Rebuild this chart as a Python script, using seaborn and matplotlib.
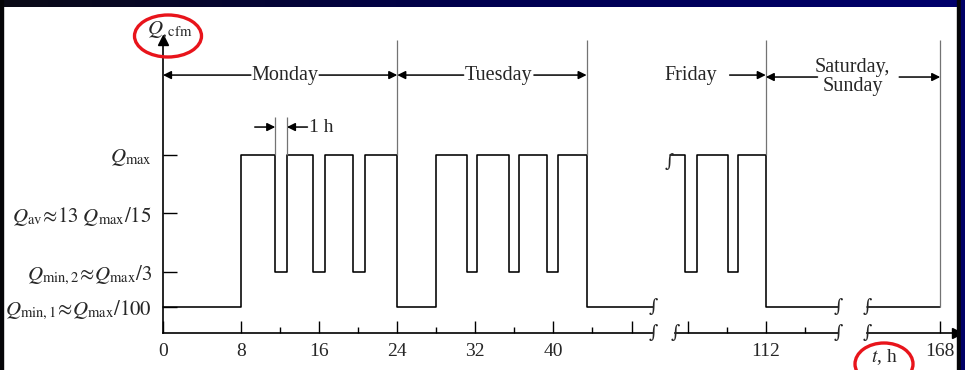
import numpy as np
import pandas as pd
import seaborn as sns
import matplotlib.pyplot as plt
from matplotlib.patches import Ellipse, Rectangle
from matplotlib.colors import LinearSegmentedColormap

# flow levels as drawn on the sketch (not to scale), in units of the Qmax height
level_names = ["min1", "min2", "av", "max"]
level_pos = [0.146, 0.343, 0.674, 1.0]
level_labels = [r"$Q_{\rm min,1}\!\approx\! Q_{\rm max}/100$",
                r"$Q_{\rm min,2}\!\approx\! Q_{\rm max}/3$",
                r"$Q_{\rm av}\!\approx\! 13\ Q_{\rm max}/15$",
                r"$Q_{\rm max}$"]
lv = dict(zip(level_names, level_pos))

# Monday + Tuesday (hours, level after each change)
mt_t = [0, 8, 11.5, 12.7, 15.4, 16.6, 19.5, 20.7, 24, 28, 31.1, 32.2, 35.4, 36.5, 39.3, 40.5, 43.4, 50.2]
mt_q = ["min1", "max", "min2", "max", "min2", "max", "min2", "max", "min1",
        "max", "min2", "max", "min2", "max", "min2", "max", "min1", "min1"]
# Friday
fr_t = [102.2, 103.7, 105.0, 108.1, 109.2, 112, 119.4]
fr_q = ["max", "min2", "max", "min2", "max", "min1", "min1"]
# weekend
we_t = [160.5, 168]
we_q = ["min1", "min1"]

day_edges = [24, 43.4, 112]
one_h = [11.5, 12.7]

sns.set_theme(style="white")
plt.rcParams["font.family"] = ["Liberation Serif", "DejaVu Serif"]
plt.rcParams["mathtext.fontset"] = "stix"

W, H = 965, 370
fig = plt.figure(figsize=(W / 100, H / 100), dpi=100)
fig.patch.set_facecolor("white")


def rect(x0, x1, y0=333, y1=40):
    return [x0 / W, 1 - y0 / H, (x1 - x0) / W, (y0 - y1) / H]


ax1 = fig.add_axes(rect(163, 653))
ax2 = fig.add_axes(rect(675, 838))
ax3 = fig.add_axes(rect(867, 957))
ax1.set_xlim(0, 50.2)
ax2.set_xlim(102.7, 119.4)
ax3.set_xlim(160.5, 169.72)

segs = [(ax1, mt_t, mt_q), (ax2, fr_t, fr_q), (ax3, we_t, we_q)]
for ax, t, q in segs:
    ax.set_facecolor("none")
    ax.set_ylim(0, 1.646)
    df = pd.DataFrame({"t": t, "Q": [lv[k] for k in q]})
    sns.lineplot(data=df, x="t", y="Q", ax=ax, estimator=None, sort=False,
                 drawstyle="steps-post", color="black", lw=1.15, clip_on=False)
    ax.set_xlabel("")
    ax.set_ylabel("")
    for s in ["top", "right", "left"]:
        ax.spines[s].set_visible(False)
    ax.spines["bottom"].set_color("black")
    ax.spines["bottom"].set_linewidth(1.2)
    ax.set_yticks([])
    ax.tick_params(axis="x", which="major", direction="in", length=9, width=1,
                   color="black", labelsize=14, pad=7, bottom=True)
    ax.tick_params(axis="x", which="minor", direction="in", length=4, width=1,
                   color="black", bottom=True)

ax1.spines["left"].set_visible(True)
ax1.spines["left"].set_color("black")
ax1.spines["left"].set_linewidth(1.2)
ax1.set_yticks(level_pos)
ax1.set_yticklabels(level_labels)
ax1.tick_params(axis="y", direction="in", length=10, width=1, color="black",
                labelsize=15, pad=8, left=True)

ax1.set_xticks([0, 8, 16, 24, 32, 40, 48])
ax1.set_xticklabels(["0", "8", "16", "24", "32", "40", ""])
ax1.set_xticks([12, 20, 28, 36, 44], minor=True)
ax2.set_xticks([104, 112])
ax2.set_xticklabels(["", "112"])
ax2.set_xticks([108, 116], minor=True)
ax3.set_xticks([168])
ax3.set_xticklabels(["168"])

# axis arrows
ax1.plot(0, 1, "^", color="black", ms=7, transform=ax1.transAxes, clip_on=False)
ax3.plot(1, 0, ">", color="black", ms=7, transform=ax3.transAxes, clip_on=False)

# thin day dividers
top = 1.646
gray = "0.45"
ax1.vlines([day_edges[0], day_edges[1]], lv["max"], top, color=gray, lw=0.9)
ax2.vlines(day_edges[2], lv["max"], top, color=gray, lw=0.9)
ax3.vlines(168, lv["min1"], top, color=gray, lw=0.9)
ax1.vlines(one_h, lv["max"], 1.213, color=gray, lw=0.9)

arrow_kw = dict(arrowstyle="-|>", color="black", lw=1.1, mutation_scale=12,
                shrinkA=0, shrinkB=0)
ya = 1.449
fs = 14.5
ax1.text(12.5, ya, "Monday", ha="center", va="center", fontsize=fs)
ax1.annotate("", xy=(0, ya), xytext=(9.0, ya), arrowprops=arrow_kw)
ax1.annotate("", xy=(24, ya), xytext=(16.0, ya), arrowprops=arrow_kw)
ax1.text(34.4, ya, "Tuesday", ha="center", va="center", fontsize=fs)
ax1.annotate("", xy=(24, ya), xytext=(30.8, ya), arrowprops=arrow_kw)
ax1.annotate("", xy=(43.4, ya), xytext=(38.0, ya), arrowprops=arrow_kw)
ax2.text(104.3, ya, "Friday", ha="center", va="center", fontsize=fs)
ax2.annotate("", xy=(112, ya), xytext=(108.3, ya), arrowprops=arrow_kw)
ax2.text(120.9, 1.438, "Saturday,\nSunday", ha="center", va="center",
         fontsize=fs, linespacing=0.95)
ax2.annotate("", xy=(112, 1.438), xytext=(117.3, 1.438), arrowprops=arrow_kw)
ax3.annotate("", xy=(168, 1.438), xytext=(163.8, 1.438), arrowprops=arrow_kw,
             annotation_clip=False)

# 1 h marker
yh = 1.157
ax1.annotate("", xy=(11.5, yh), xytext=(9.4, yh), arrowprops=arrow_kw)
ax1.annotate("", xy=(12.7, yh), xytext=(14.8, yh), arrowprops=arrow_kw)
ax1.text(15.0, yh, "1 h", ha="left", va="center", fontsize=14)

# break marks
brk = dict(ha="center", va="center", fontsize=13, family="DejaVu Serif")
ax1.text(50.2, lv["min1"], "\u222b", **brk)
ax1.text(50.2, 0, "\u222b", clip_on=False, **brk)
ax2.text(102.7, 0, "\u222b", clip_on=False, **brk)
ax2.text(102.1, lv["max"] - 0.04, "\u222b", clip_on=False, **brk)
ax2.text(119.4, lv["min1"], "\u222b", **brk)
ax2.text(119.4, 0, "\u222b", clip_on=False, **brk)
ax3.text(160.5, lv["min1"], "\u222b", clip_on=False, **brk)
ax3.text(160.5, 0, "\u222b", clip_on=False, **brk)

# axis names with red circles
fig.text(170 / W, 1 - 30 / H, r"$Q_{,\rm cfm}$", ha="center", va="center", fontsize=15)
fig.text(884 / W, 1 - 357 / H, r"$t$, h", ha="center", va="center", fontsize=14)
fig.add_artist(Ellipse((168 / W, 1 - 36 / H), 67 / W, 42 / H, transform=fig.transFigure,
                       fill=False, edgecolor="#e8141b", lw=2.4))
fig.add_artist(Ellipse((884 / W, 1 - 364 / H), 58 / W, 42 / H, transform=fig.transFigure,
                       fill=False, edgecolor="#e8141b", lw=2.4))

# dark slide frame
bar = fig.add_axes([0, 1 - 7 / H, 1, 7 / H])
cmap = LinearSegmentedColormap.from_list("bar", ["#0b0b16", "#000050", "#00006c"])
bar.imshow(np.linspace(0, 1, 200)[None, :], aspect="auto", cmap=cmap)
bar.axis("off")
fig.add_artist(Rectangle((0, 0), 3 / W, 1, transform=fig.transFigure, color="#050508", zorder=5))
fig.add_artist(Rectangle((957 / W, 0), 4 / W, 1, transform=fig.transFigure, color="#050508", zorder=5))
fig.add_artist(Rectangle((961 / W, 0), 4 / W, 1, transform=fig.transFigure, color="#000066", zorder=5))

fig.savefig("out.png", dpi=100)
